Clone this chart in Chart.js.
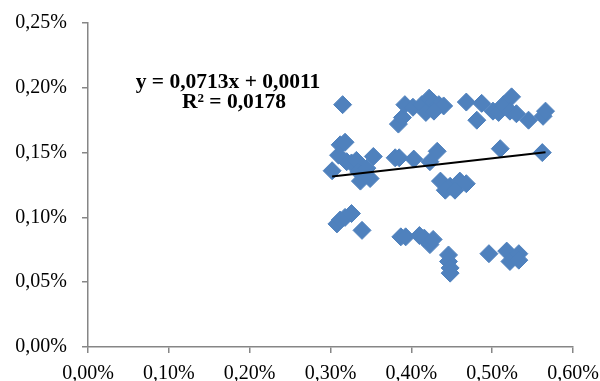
<!DOCTYPE html>
<html>
<head>
<meta charset="utf-8">
<script src="https://cdn.jsdelivr.net/npm/chart.js@4"></script>
<style>
  body { margin: 0; background: #fff; }
  canvas { display: block; }
</style>
</head>
<body>
<canvas id="grafico-dispersao" width="600" height="381"></canvas>
<script>
// Valores em % (eixo X e eixo Y)
const xValores = [
  0.315, 0.384, 0.389, 0.392, 0.402, 0.413, 0.418, 0.422, 0.427, 0.434, 0.440, 0.428,
  0.468, 0.481, 0.487, 0.501, 0.508, 0.514, 0.524, 0.522, 0.530, 0.545, 0.563, 0.566,
  0.302, 0.312, 0.318, 0.320, 0.310, 0.326, 0.332, 0.335, 0.345, 0.337, 0.349, 0.353, 0.380, 0.385,
  0.403, 0.423, 0.432, 0.510, 0.562,
  0.436, 0.448, 0.460, 0.468, 0.442, 0.454,
  0.308, 0.312, 0.318, 0.326, 0.339,
  0.387, 0.393, 0.410, 0.416, 0.423, 0.427,
  0.446, 0.446, 0.448, 0.448, 0.496, 0.518, 0.522, 0.533, 0.533
];
const yValores = [
  0.187, 0.172, 0.177, 0.187, 0.185, 0.187, 0.181, 0.192, 0.189, 0.187, 0.186, 0.182,
  0.189, 0.175, 0.188, 0.182, 0.181, 0.187, 0.193, 0.182, 0.180, 0.175, 0.178, 0.182,
  0.136, 0.156, 0.158, 0.143, 0.148, 0.142, 0.144, 0.135, 0.138, 0.128, 0.130, 0.147, 0.146, 0.146,
  0.145, 0.143, 0.151, 0.153, 0.150,
  0.128, 0.124, 0.128, 0.126, 0.121, 0.121,
  0.095, 0.098, 0.100, 0.103, 0.090,
  0.085, 0.085, 0.086, 0.084, 0.079, 0.083,
  0.071, 0.066, 0.061, 0.057, 0.072, 0.074, 0.066, 0.072, 0.067
];

// Linha de tendência (em %): y = 0,0713x + 0,0011
const inclinacao = 0.0713;
const intercepto = 0.11;
const textoEquacao = 'y = 0,0713x + 0,0011';
const textoR2 = 'R² = 0,0178';

// Rótulos dos eixos
const rotulosX = ['0,00%', '0,10%', '0,20%', '0,30%', '0,40%', '0,50%', '0,60%'];
const rotulosY = ['0,00%', '0,05%', '0,10%', '0,15%', '0,20%', '0,25%'];

const pontos = xValores.map((x, i) => ({ x: x, y: yValores[i] }));
const xMin = Math.min(...xValores);
const xMax = Math.max(...xValores);
const tendencia = [
  { x: xMin, y: inclinacao * xMin + intercepto },
  { x: xMax, y: inclinacao * xMax + intercepto }
];

const corEixo = '#868686';
const fonteEixo = { family: "'Liberation Serif', 'Times New Roman', serif", size: 20 };

// Escreve a equação sobre o gráfico
const pluginEquacao = {
  id: 'equacao',
  afterDatasetsDraw(chart) {
    const ctx = chart.ctx;
    ctx.save();
    ctx.fillStyle = '#000';
    ctx.font = "bold 21.5px 'Liberation Serif', 'Times New Roman', serif";
    ctx.textAlign = 'center';
    ctx.textBaseline = 'alphabetic';
    ctx.fillText(textoEquacao, 228, 88);
    ctx.fillText(textoR2, 234, 108);
    ctx.restore();
  }
};

const ctx = document.getElementById('grafico-dispersao').getContext('2d');
new Chart(ctx, {
  type: 'scatter',
  data: {
    datasets: [
      {
        type: 'line',
        data: tendencia,
        borderColor: '#000',
        borderWidth: 2,
        pointRadius: 0,
        fill: false,
        order: 0
      },
      {
        data: pontos,
        backgroundColor: '#4F81BD',
        borderColor: '#4F81BD',
        borderWidth: 1,
        pointStyle: 'rectRot',
        pointRadius: 9,
        order: 1
      }
    ]
  },
  options: {
    responsive: false,
    animation: false,
    plugins: {
      legend: { display: false },
      tooltip: { enabled: false }
    },
    layout: {
      padding: { top: 23, right: 27, left: 0, bottom: 0 }
    },
    scales: {
      x: {
        type: 'linear',
        min: 0,
        max: 0.6,
        ticks: {
          stepSize: 0.1,
          color: '#000',
          font: fonteEixo,
          padding: 9,
          maxRotation: 0,
          callback: (v, i) => rotulosX[i]
        },
        grid: { drawOnChartArea: false, color: corEixo, lineWidth: 1.5, tickLength: 6 },
        border: { color: corEixo, width: 1.5 },
        afterFit: (scale) => {
          scale.height = 34;
          scale.paddingLeft = 0;
          scale.paddingRight = 0;
        }
      },
      y: {
        type: 'linear',
        min: 0,
        max: 0.25,
        ticks: {
          stepSize: 0.05,
          color: '#000',
          font: fonteEixo,
          padding: 15,
          callback: (v, i) => rotulosY[i]
        },
        grid: { drawOnChartArea: false, color: corEixo, lineWidth: 1.5, tickLength: 6 },
        border: { color: corEixo, width: 1.5 },
        afterFit: (scale) => {
          scale.width = 88;
          scale.paddingTop = 0;
          scale.paddingBottom = 0;
        }
      }
    }
  },
  plugins: [pluginEquacao]
});
</script>
</body>
</html>
